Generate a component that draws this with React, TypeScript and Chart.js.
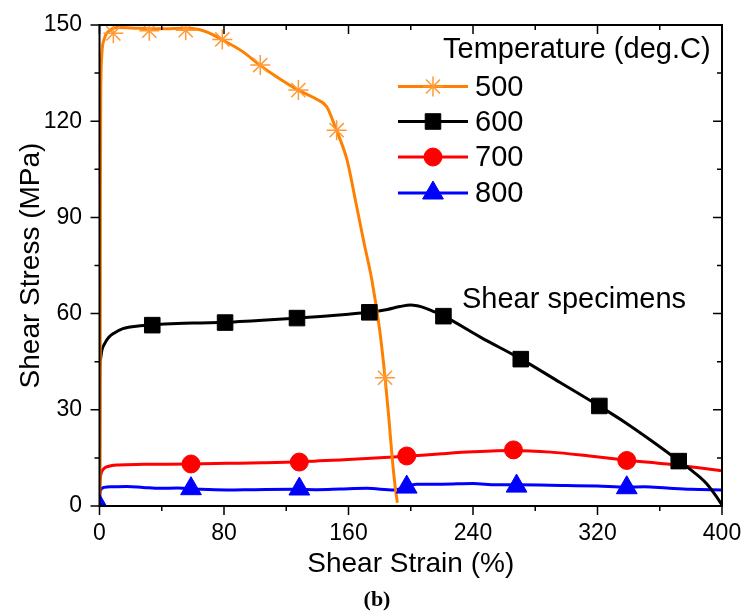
import React, { useEffect, useRef } from 'react';
import { Chart, registerables } from 'chart.js';
import { drawPoint } from 'chart.js/helpers';

Chart.register(...registerables);

// Axis ticks
const xTicks = [0, 80, 160, 240, 320, 400];
const xMinorTicks = [40, 120, 200, 280, 360];
const yTicks = [0, 30, 60, 90, 120, 150];
const yMinorTicks = [15, 45, 75, 105, 135];

// Texts
const xTitle = 'Shear Strain (%)';
const yTitle = 'Shear Stress (MPa)';
const legendTitle = 'Temperature (deg.C)';
const noteText = 'Shear specimens';
const panelLabel = '(b)';
const seriesLabels = ['500', '600', '700', '800'];

// 500 deg.C curve
const strain500 = [0, 0.4, 0.5, 0.6, 0.8, 1.4, 3, 6.7, 12, 25, 40, 55, 64, 70, 78, 92, 103, 114, 128, 139, 146, 152, 159, 165, 170, 175, 180, 183.5, 186, 188, 190, 191.4];
const stress500 = [0, 20, 60, 100, 127, 140, 145.5, 148.3, 149.2, 149, 148.8, 149, 148.6, 147.6, 145.6, 141.7, 137.5, 133.8, 129.6, 127, 124.5, 117.5, 108, 94, 82, 70.5, 55, 40, 27, 15.4, 6, 1];
const markStrain500 = [8.9, 32, 55.4, 78.9, 103.3, 127.8, 152.4, 183.5];
const markStress500 = [147.4, 148.2, 148.4, 145.5, 137.5, 129.7, 117.2, 40];

// 600 deg.C curve
const strain600 = [0, 0.1, 0.2, 0.6, 1.5, 3.5, 6, 9, 15, 26, 34, 50, 65, 81, 100, 115, 127, 142, 160, 173, 185, 193, 200, 207, 214, 221, 245, 271, 296, 321, 338, 354, 372, 382, 390, 396, 400];
const stress600 = [0, 20, 40, 45.5, 48.5, 50.8, 52.6, 53.8, 55.3, 56.2, 56.5, 56.9, 57.1, 57.3, 57.8, 58.2, 58.6, 59.1, 59.8, 60.4, 61.3, 62.2, 62.7, 62.1, 60.8, 59.3, 52.6, 45.8, 38.5, 31.2, 26, 20.6, 14.2, 10.5, 7, 3.2, 0.3];
const markStrain600 = [33.9, 80.7, 126.9, 173.4, 221, 270.7, 321.2, 372.2];
const markStress600 = [56.4, 57.2, 58.6, 60.4, 59.2, 45.8, 31.2, 14.0];

// 700 deg.C curve
const strain700 = [0, 0.3, 1, 2.5, 6, 12, 28, 58.8, 82, 105, 128.4, 160, 197.4, 220, 240, 266, 290, 315, 338.8, 365, 385, 400];
const stress700 = [0, 7, 10, 11.5, 12.4, 12.8, 13, 13.1, 13.3, 13.5, 13.8, 14.5, 15.5, 16.3, 16.9, 17.3, 16.8, 15.6, 14.3, 13.1, 11.9, 11.0];
const markStrain700 = [58.8, 128.4, 197.4, 266, 338.8];
const markStress700 = [13.1, 13.7, 15.6, 17.5, 14.2];

// 800 deg.C curve
const strain800 = [0, 0.2, 0.8, 3, 8, 17.5, 28, 38.9, 50, 65, 81.7, 100, 124.5, 140, 155, 171.7, 189, 203.8, 220, 240, 255, 268, 289.5, 300, 320, 338.8, 350, 364.5, 380, 400];
const stress800 = [0, 3.5, 5, 5.8, 6.0, 6.1, 5.8, 5.5, 5.6, 5.2, 5.0, 5.1, 5.2, 5.1, 5.3, 5.5, 5.0, 6.8, 6.8, 7.0, 6.6, 6.6, 6.5, 6.4, 6.2, 5.9, 6.0, 5.6, 5.2, 5.0];
const markStrain800 = [0, 58.8, 128.4, 197.4, 268, 338.8];
const markStress800 = [0, 5.4, 5.3, 5.9, 6.2, 5.7];

const FONT = "'Liberation Sans', Arial, Helvetica, sans-serif";

const toPoints = (xs: number[], ys: number[]) => xs.map((x, i) => ({ x, y: ys[i] }));

type Style = { color: string; markColor: string; pointStyle: string; radius: number; markBorder: number };
const styles: Style[] = [
  { color: '#FF8000', markColor: '#FF9933', pointStyle: 'star', radius: 10, markBorder: 1.5 },
  { color: '#000000', markColor: '#000000', pointStyle: 'rect', radius: 11, markBorder: 1 },
  { color: '#FF0000', markColor: '#FF0000', pointStyle: 'circle', radius: 9, markBorder: 1 },
  { color: '#0000FF', markColor: '#0000FF', pointStyle: 'triangle', radius: 12, markBorder: 1 },
];

const curves = [
  toPoints(strain500, stress500),
  toPoints(strain600, stress600),
  toPoints(strain700, stress700),
  toPoints(strain800, stress800),
];
const marks = [
  toPoints(markStrain500, markStress500),
  toPoints(markStrain600, markStress600),
  toPoints(markStrain700, markStress700),
  toPoints(markStrain800, markStress800),
];

// Frame with inward ticks on top/right, outward on bottom/left
const framePlugin = {
  id: 'frame',
  afterDatasetsDraw(chart: any) {
    const { ctx, chartArea: a, scales } = chart;
    const x = scales.x;
    const y = scales.y;
    ctx.save();
    ctx.strokeStyle = '#000';
    ctx.lineWidth = 2;
    ctx.strokeRect(a.left, a.top, a.right - a.left, a.bottom - a.top);
    ctx.lineWidth = 1.5;
    ctx.beginPath();
    const xt = (v: number, len: number) => {
      const px = x.getPixelForValue(v);
      ctx.moveTo(px, a.bottom);
      ctx.lineTo(px, a.bottom + len);
      ctx.moveTo(px, a.top);
      ctx.lineTo(px, a.top + len);
    };
    const yt = (v: number, len: number) => {
      const py = y.getPixelForValue(v);
      ctx.moveTo(a.left, py);
      ctx.lineTo(a.left - len, py);
      ctx.moveTo(a.right, py);
      ctx.lineTo(a.right - len, py);
    };
    xTicks.forEach((v) => xt(v, 9));
    xMinorTicks.forEach((v) => xt(v, 5));
    yTicks.forEach((v) => yt(v, 9));
    yMinorTicks.forEach((v) => yt(v, 5));
    ctx.stroke();
    ctx.restore();
  },
};

// Legend, annotation and panel label
const textPlugin = {
  id: 'texts',
  afterDraw(chart: any) {
    const { ctx } = chart;
    ctx.save();
    ctx.fillStyle = '#000';
    ctx.font = `29px ${FONT}`;
    ctx.textBaseline = 'middle';
    ctx.textAlign = 'left';
    ctx.fillText(legendTitle, 443, 50);
    const rowY = [86.5, 121.5, 157, 193];
    seriesLabels.forEach((label, i) => {
      const s = styles[i];
      const yy = rowY[i];
      ctx.strokeStyle = s.color;
      ctx.lineWidth = 3;
      ctx.beginPath();
      ctx.moveTo(398, yy);
      ctx.lineTo(468, yy);
      ctx.stroke();
      ctx.fillStyle = s.markColor;
      ctx.strokeStyle = s.markColor;
      ctx.lineWidth = s.markBorder;
      drawPoint(ctx, { pointStyle: s.pointStyle as any, rotation: 0, radius: s.radius, borderWidth: s.markBorder }, 433, yy);
      ctx.fillStyle = '#000';
      ctx.fillText(label, 475, yy + 1);
    });
    ctx.fillStyle = '#000';
    ctx.fillText(noteText, 462, 300);
    ctx.font = `bold 22px 'Liberation Serif', 'Times New Roman', serif`;
    ctx.textAlign = 'center';
    ctx.fillText(panelLabel, 377, 600);
    ctx.restore();
  },
};

const clearScalePadding = (s: any) => {
  s.paddingLeft = 0;
  s.paddingRight = 0;
  s.paddingTop = 0;
  s.paddingBottom = 0;
};

export default function App() {
  const ref = useRef<HTMLCanvasElement | null>(null);

  useEffect(() => {
    if (!ref.current) return;
    const markerSets = marks.map((data, i) => ({
      label: `${seriesLabels[i]} markers`,
      data,
      showLine: false,
      pointStyle: styles[i].pointStyle as any,
      pointRadius: styles[i].radius,
      pointBackgroundColor: styles[i].markColor,
      pointBorderColor: styles[i].markColor,
      pointBorderWidth: styles[i].markBorder,
      clip: 0,
    }));
    const lineSets = curves.map((data, i) => ({
      label: seriesLabels[i],
      data,
      borderColor: styles[i].color,
      borderWidth: 3,
      pointRadius: 0,
      cubicInterpolationMode: 'monotone' as const,
      fill: false,
    }));

    const tickFont = { family: FONT, size: 23 };
    const titleFont = { family: FONT, size: 28 };

    const chart = new Chart(ref.current, {
      type: 'line',
      data: { datasets: [...markerSets, ...lineSets] as any },
      plugins: [framePlugin, textPlugin],
      options: {
        responsive: false,
        animation: false,
        events: [],
        layout: { padding: { left: 0, top: 25, right: 20, bottom: 30 } },
        plugins: { legend: { display: false }, tooltip: { enabled: false } },
        scales: {
          x: {
            type: 'linear',
            min: 0,
            max: 400,
            afterBuildTicks: (s: any) => {
              s.ticks = xTicks.map((value) => ({ value }));
            },
            afterFit: (s: any) => {
              s.height = 75;
              clearScalePadding(s);
            },
            grid: { display: false, drawTicks: true, tickLength: 9 },
            border: { display: false },
            ticks: { font: tickFont, color: '#000', padding: 5, maxRotation: 0, autoSkip: false },
            title: { display: true, text: xTitle, font: titleFont, color: '#000', padding: { top: 0, bottom: 0 } },
          },
          y: {
            type: 'linear',
            min: 0,
            max: 150,
            afterBuildTicks: (s: any) => {
              s.ticks = yTicks.map((value) => ({ value }));
            },
            afterFit: (s: any) => {
              s.width = 99.5;
              clearScalePadding(s);
            },
            grid: { display: false, drawTicks: true, tickLength: 9 },
            border: { display: false },
            ticks: { font: tickFont, color: '#000', padding: 8.5, autoSkip: false },
            title: { display: true, text: yTitle, font: titleFont, color: '#000', padding: { top: 14, bottom: 0 } },
          },
        },
      } as any,
    });
    return () => chart.destroy();
  }, []);

  return (
    <div style={{ position: 'absolute', left: 0, top: 0, width: 742, height: 611, background: '#fff' }}>
      <canvas ref={ref} width={742} height={611} style={{ display: 'block' }} />
    </div>
  );
}
